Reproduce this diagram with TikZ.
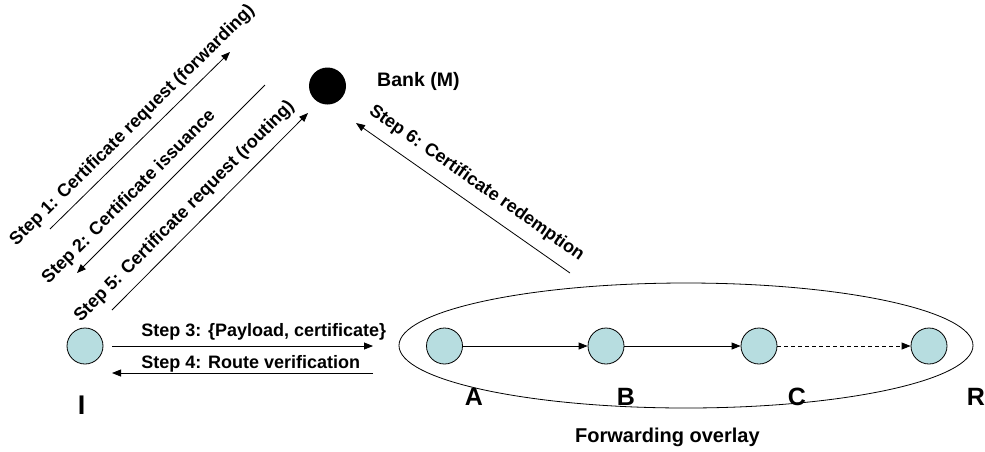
\documentclass[tikz,border=0pt]{standalone}
\usepackage{fontspec}
\setmainfont{Liberation Sans}
\usetikzlibrary{arrows.meta,shapes.geometric}
\definecolor{peerfill}{RGB}{183,221,224}
\begin{document}
\begin{tikzpicture}[x=1pt,y=-1pt,
  font=\bfseries\fontsize{18}{20}\selectfont,
  peer/.style={circle, draw=black, fill=peerfill, line width=0.8pt, minimum size=36pt, inner sep=0pt},
  conn/.style={line width=0.8pt, -{Triangle[length=9pt,width=7pt]}},
  rconn/.style={line width=0.8pt, {Triangle[length=9pt,width=7pt]}-},
  big/.style={font=\bfseries\fontsize{25}{28}\selectfont, inner sep=0pt, anchor=base},
  steplbl/.style={sloped, anchor=south, inner sep=2pt},
  flatlbl/.style={anchor=base west, inner sep=0pt},
]
\useasboundingbox (0,0) rectangle (985,451);
% peers
\node[peer] (I) at (85,346) {};
\node[peer] (A) at (444.5,346) {};
\node[peer] (B) at (606,346) {};
\node[peer] (C) at (759,346) {};
\node[peer] (R) at (929,346) {};
\node[circle, fill=black, minimum size=37pt, inner sep=0pt] (M) at (327.5,86) {};
\node[draw, ellipse, line width=0.8pt, minimum width=574pt, minimum height=125pt, inner sep=0pt] (ov) at (686,345.5) {};
% labels
\node[big, font=\bfseries\fontsize{27}{30}\selectfont] (lI) at (81.5,414) {I};
\node[big] (lA) at (474,405) {A};
\node[big] (lB) at (626,405) {B};
\node[big] (lC) at (797,405) {C};
\node[big] (lR) at (976,405) {R};
\node[flatlbl, font=\bfseries\fontsize{19.5}{22}\selectfont] (lM) at (377,86.7) {Bank (M)};
\node[flatlbl, font=\bfseries\fontsize{20}{22}\selectfont] (lov) at (575,442.7) {Forwarding overlay};
% overlay forwarding
\draw[conn] (A) -- (B);
\draw[conn] (B) -- (C);
\draw[conn, dash pattern=on 4pt off 3pt] (C) -- (R);
% steps 3 and 4
\coordinate (s3a) at (112,346);
\coordinate (s3b) at (373,346);
\draw[conn] (s3a) -- node[flatlbl, pos=0.111, yshift=9.3pt] (t3) {Step 3: \{Payload, certificate\}} (s3b);
\coordinate (s4a) at (373,373);
\coordinate (s4b) at (112,373);
\draw[conn] (s4a) -- node[flatlbl, pos=0.889, yshift=4.4pt] (t4) {Step 4: Route verification} (s4b);
% diagonal steps
\coordinate (s1a) at (50,229);
\coordinate (s1b) at (230,52);
\draw[conn] (s1a) -- node[steplbl, pos=0.52, inner sep=7pt] (t1) {Step 1: Certificate request (forwarding)} (s1b);
\coordinate (s2a) at (77,273);
\coordinate (s2b) at (265,85);
\draw[rconn] (s2a) -- node[steplbl, pos=0.34, inner sep=8pt] (t2) {Step 2: Certificate issuance} (s2b);
\coordinate (s5a) at (112,310);
\coordinate (s5b) at (308,113);
\draw[conn] (s5a) -- node[steplbl, pos=0.435, inner sep=9pt] (t5) {Step 5: Certificate request (routing)} (s5b);
\coordinate (s6a) at (356,123);
\coordinate (s6b) at (570,273);
\draw[rconn] (s6a) -- node[steplbl, pos=0.51, inner sep=11pt] (t6) {Step 6: Certificate redemption} (s6b);
\end{tikzpicture}
\end{document}
